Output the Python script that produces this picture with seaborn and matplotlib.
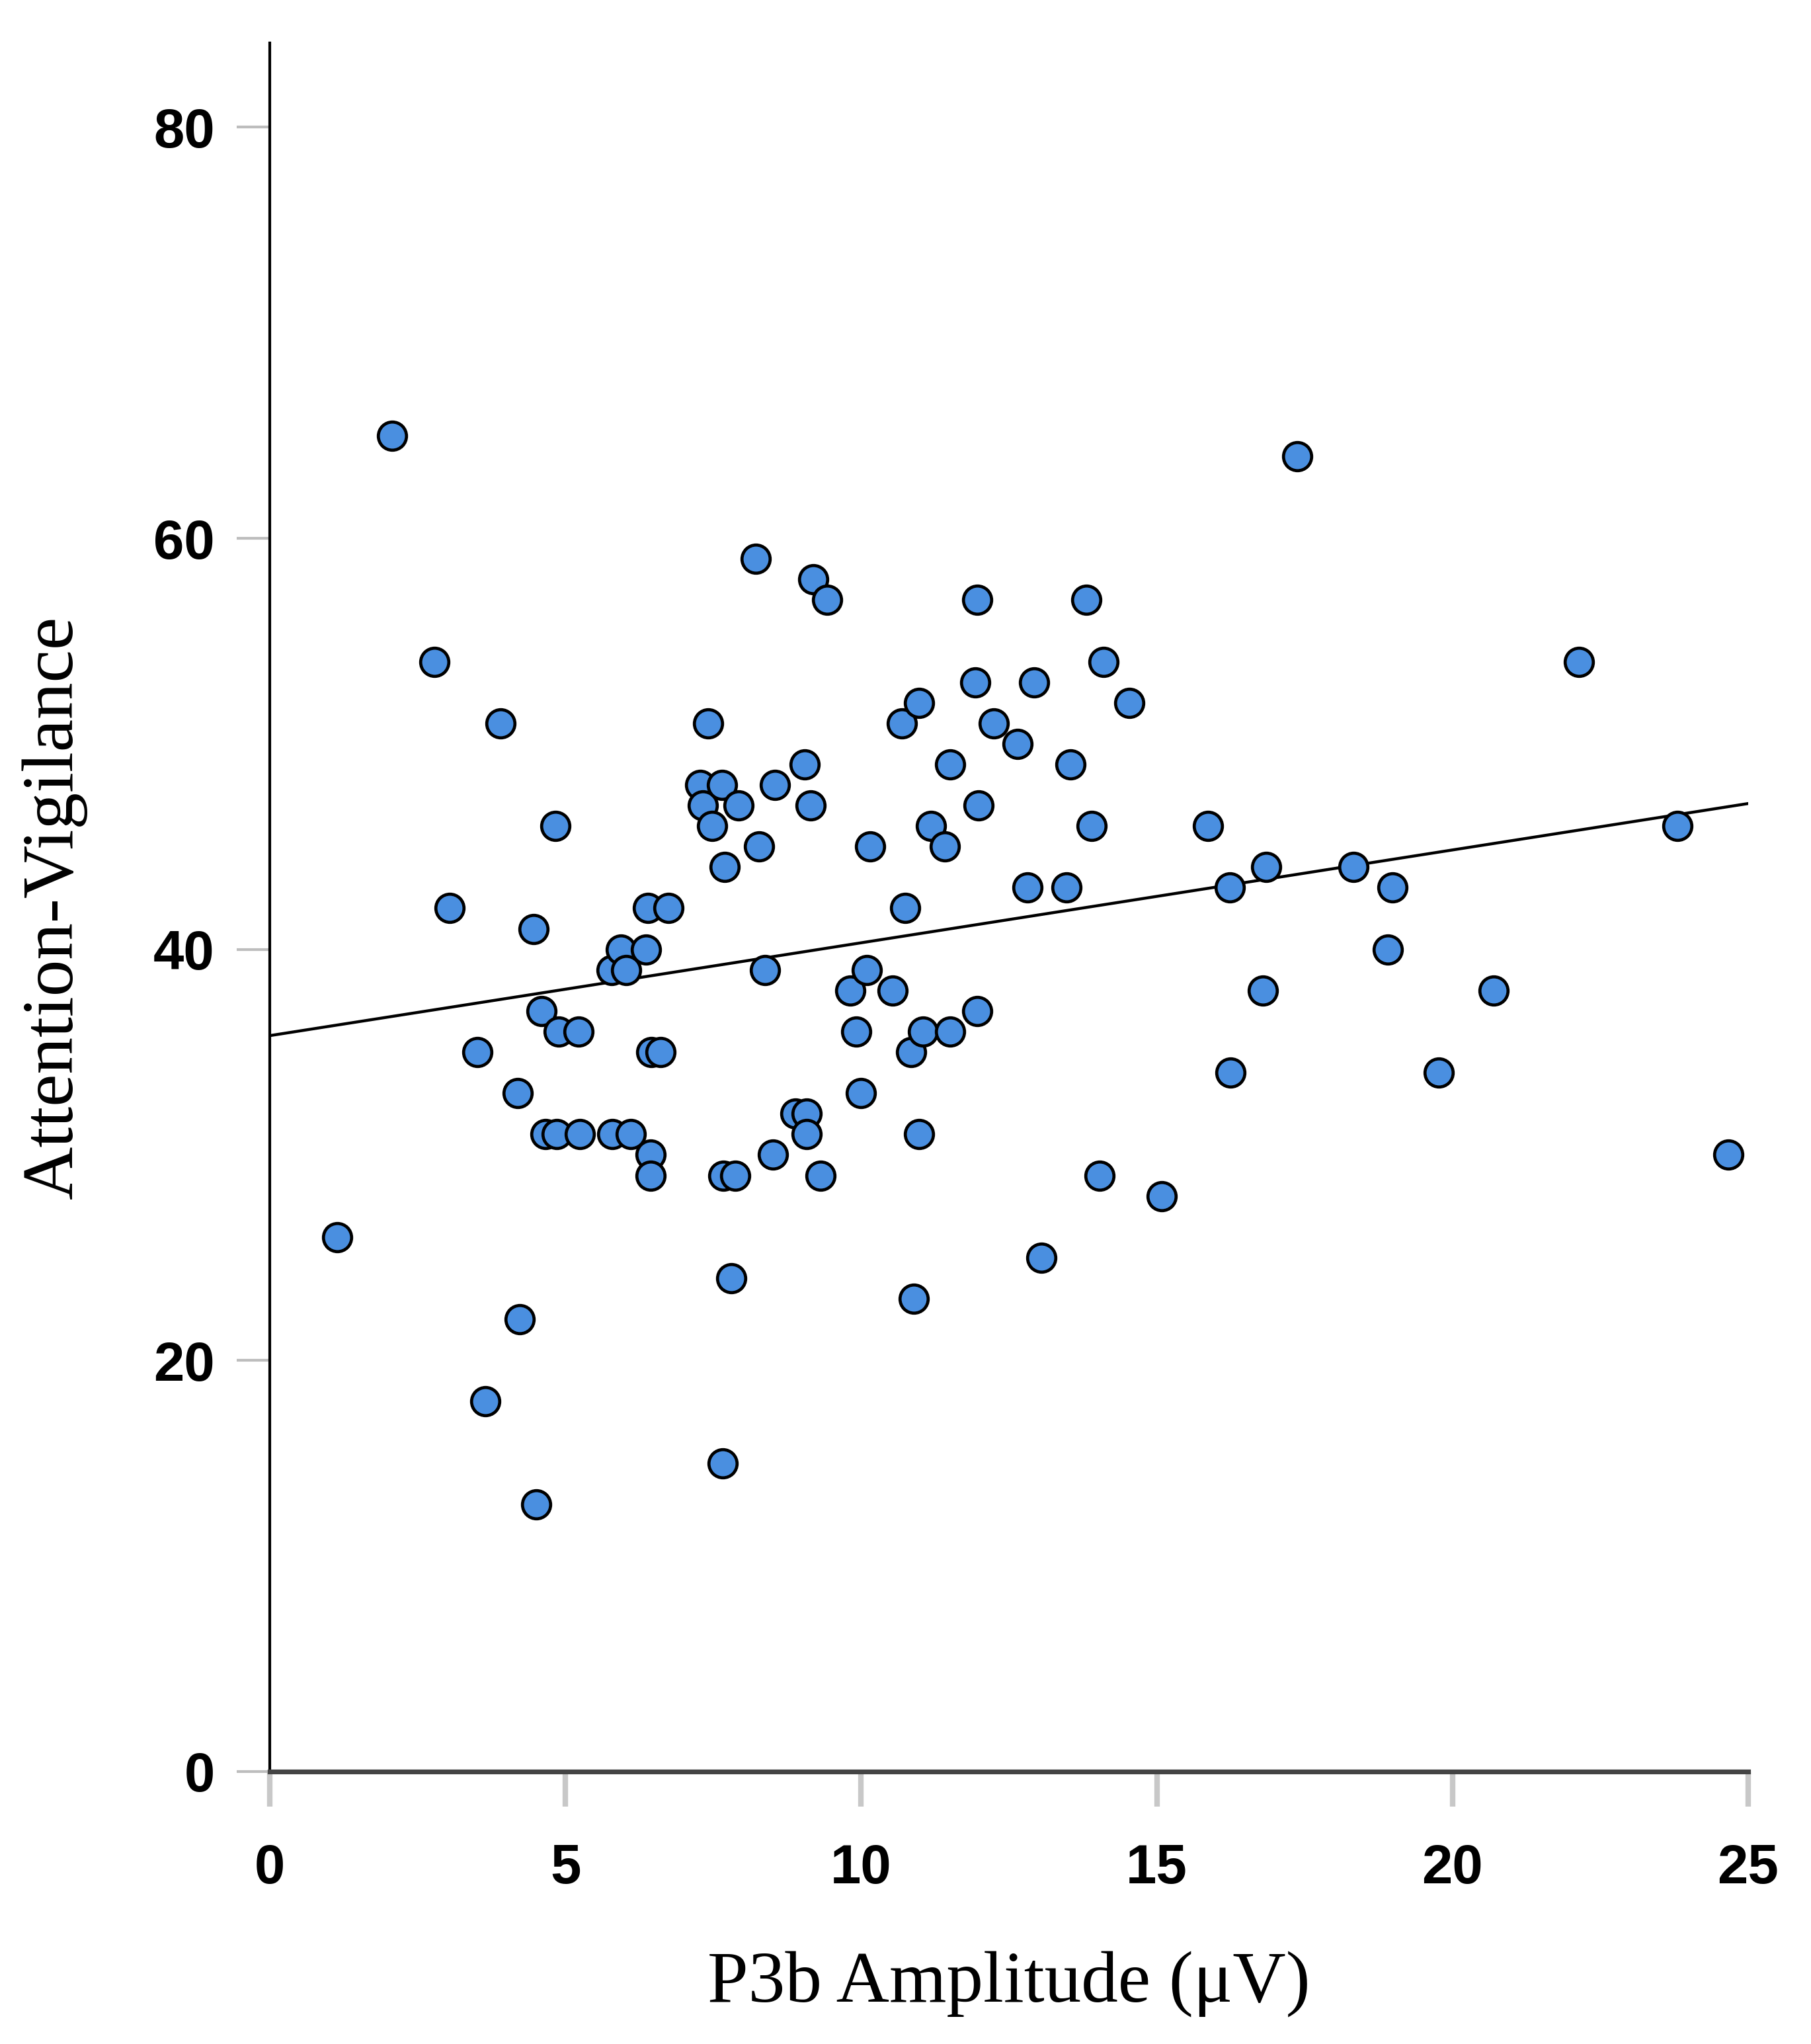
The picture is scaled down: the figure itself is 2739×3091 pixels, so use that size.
import numpy as np
import pandas as pd
import seaborn as sns
import matplotlib.pyplot as plt

# P3b amplitude (uV) and Attention-Vigilance score
p3b = [1.14, 2.07, 2.78, 3.04, 3.51, 3.64, 3.90, 4.19, 4.22, 4.46,
       4.51, 4.59, 4.66, 4.85, 4.83, 4.88, 5.22, 5.24, 5.78, 5.79,
       5.94, 6.03, 6.10, 6.36, 6.39, 6.45, 6.44, 6.44, 6.61, 6.74,
       7.28, 7.32, 7.41, 7.48, 7.65, 7.69, 7.66, 7.67, 7.80, 7.87,
       7.93, 8.22, 8.27, 8.37, 8.51, 8.54, 8.89, 9.04, 9.08, 9.08,
       9.14, 9.19, 9.31, 9.42, 9.82, 9.92, 10.00, 10.10, 10.15, 10.53,
       10.69, 10.74, 10.85, 10.89, 10.98, 10.98, 11.05, 11.18, 11.41, 11.50,
       11.50, 11.93, 11.96, 11.99, 11.96, 12.24, 12.65, 12.81, 12.93, 13.05,
       13.47, 13.54, 13.81, 13.90, 14.03, 14.10, 14.54, 15.08, 15.86, 16.23,
       16.24, 16.79, 16.85, 17.37, 18.33, 18.91, 18.99, 19.77, 20.70, 22.14,
       23.80, 24.67]
vigilance = [26, 65, 54, 42, 35, 18, 51, 33, 22, 41,
             13, 37, 31, 31, 46, 36, 36, 31, 39, 31,
             40, 39, 31, 40, 42, 35, 30, 29, 35, 42,
             48, 47, 51, 46, 48, 44, 15, 29, 24, 29,
             47, 59, 45, 39, 30, 48, 32, 49, 32, 31,
             47, 58, 29, 57, 38, 36, 33, 39, 45, 38,
             51, 42, 35, 23, 31, 52, 36, 46, 45, 36,
             49, 53, 57, 47, 37, 51, 50, 43, 53, 25,
             43, 49, 57, 46, 29, 54, 52, 28, 46, 43,
             34, 38, 44, 64, 44, 40, 43, 34, 38, 54,
             46, 30]

x_ticks = [0, 5, 10, 15, 20, 25]
y_ticks = [0, 20, 40, 60, 80]

df = pd.DataFrame({'p3b': p3b, 'vigilance': vigilance})

sns.set_style('white')
plt.rcParams['text.color'] = 'black'
plt.rcParams['axes.labelcolor'] = 'black'
plt.rcParams['xtick.labelcolor'] = 'black'
plt.rcParams['ytick.labelcolor'] = 'black'

tick_font = ['Liberation Sans Narrow', 'Liberation Sans', 'DejaVu Sans']
label_font = ['Liberation Serif', 'DejaVu Serif']

fig = plt.figure(figsize=(2739 / 200, 3091 / 200), dpi=200)
ax = fig.add_axes([0.149, 0.1333, 0.8163, 0.8457])
ax.set_xlim(0, 25)
ax.set_ylim(0, 84.1)

# scatter + linear fit across the full x range
sns.regplot(data=df, x='p3b', y='vigilance', ax=ax, ci=None, truncate=False,
            scatter_kws={'s': 235, 'color': '#4A8FE0', 'edgecolor': 'black',
                         'linewidths': 1.7, 'alpha': 1, 'zorder': 3},
            line_kws={'color': 'black', 'linewidth': 1.6, 'zorder': 2})

ax.set_xlim(0, 25)
ax.set_ylim(0, 84.1)
ax.set_xticks(x_ticks)
ax.set_yticks(y_ticks)
ax.set_xticklabels([str(t) for t in x_ticks], family=tick_font,
                   fontweight='bold', fontsize=30)
ax.set_yticklabels([str(t) for t in y_ticks], family=tick_font,
                   fontweight='bold', fontsize=30)

ax.tick_params(axis='x', direction='out', length=19, width=3, color='#c8c8c8',
               pad=20, bottom=True)
ax.tick_params(axis='y', direction='out', length=18, width=1.5, color='#bdbdbd',
               pad=12, left=True)

for side in ['top', 'right']:
    ax.spines[side].set_visible(False)
ax.spines['left'].set_color('black')
ax.spines['left'].set_linewidth(1.5)
ax.spines['bottom'].set_color('#444444')
ax.spines['bottom'].set_linewidth(2.6)
ax.spines['bottom'].set_zorder(4)

ax.set_xlabel('P3b Amplitude (μV)', family=label_font, fontsize=40)
ax.set_ylabel('Attention-Vigilance', family=label_font, fontsize=40)
ax.xaxis.set_label_coords(0.5, -0.123)
ax.xaxis.label.set_va('center')
ax.yaxis.set_label_coords(-0.1458, 0.5)
ax.yaxis.label.set_va('center')

fig.savefig('out.png', dpi=200, facecolor='white')
